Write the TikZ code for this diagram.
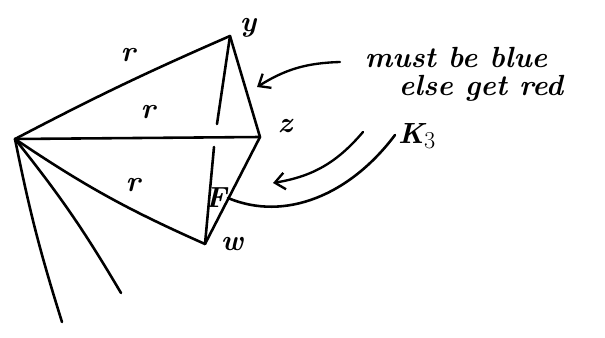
\documentclass[tikz,border=0pt]{standalone}
\usepackage{tikz}
\usetikzlibrary{arrows.meta,positioning}
\tikzstyle{edge} = [line width=2.2pt, line cap=round]
\tikzstyle{pointer} = [line width=2pt, line cap=round, -{Straight Barb[length=3mm,width=5mm]}]
\tikzstyle{lbl} = [font=\Huge\bfseries\itshape, inner sep=1pt]

\begin{document}
\begin{tikzpicture}[x=0.03cm,y=-0.03cm]
\useasboundingbox (0,0) rectangle (605,338);
% vertices
\coordinate (v) at (15,139);
\coordinate (y) at (230,36);
\coordinate (z) at (260,137);
\coordinate (w) at (205,244);
\coordinate (ys) at (217,124);
\coordinate (ws) at (214,147);
\coordinate (d1) at (62,322);
\coordinate (d2) at (121,293);
\node[lbl] (ly) at (248,28) {y};
\node[lbl] (lz) at (285,126) {z};
\node[lbl] (lw) at (232,244) {w};
\node[lbl] (r1) at (128,55) {r};
\node[lbl] (r2) at (148,112) {r};
\node[lbl] (r3) at (133,185) {r};
\node[lbl] (mark) at (216,198) {F};
% edges
\draw[edge] (v) to[bend left=2] (y);
\draw[edge] (v) -- (z);
\draw[edge] (v) to[bend right=5] (w);
\draw[edge] (y) -- (z);
\draw[edge] (z) -- (w);
\draw[edge] (y) -- (ys);
\draw[edge] (w) -- (ws);
\draw[edge] (v) to[bend right=3] (d1);
\draw[edge] (v) to[bend left=4] (d2);
% note
\node[lbl] (note1) at (456,57) {must be blue};
\node[lbl] (note2) at (481,88) {else get red};
\node[lbl] (note3) at (417,136) {K$_3$};
\coordinate (a1) at (340,62);
\coordinate (h1) at (257,87);
\coordinate (a2) at (363,132);
\coordinate (h2) at (273,183);
\coordinate (c3) at (395,135);
\draw[pointer] (a1) to[bend right=15] (h1);
\draw[pointer] (a2) to[bend left=20] (h2);
\draw[edge] (mark.east) .. controls (285,222) and (350,195) .. (c3);
\end{tikzpicture}
\end{document}
